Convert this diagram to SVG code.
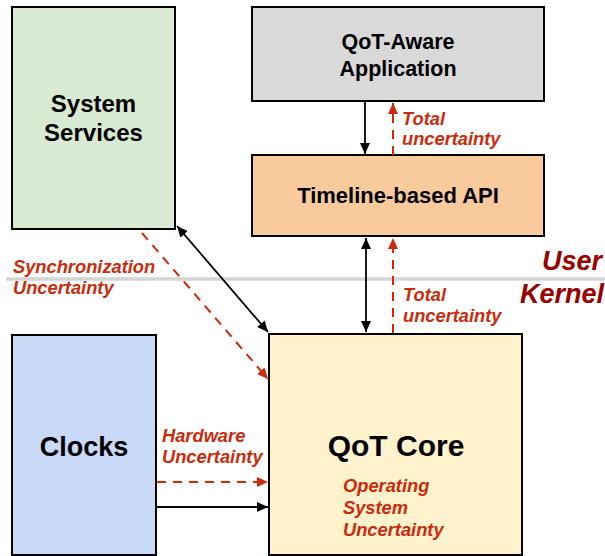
<svg xmlns="http://www.w3.org/2000/svg" width="605" height="556" viewBox="0 0 605 556">
  <style>
    .box { stroke: #000; stroke-width: 2; }
    .title { font-family: "Liberation Sans", Arial, sans-serif; font-weight: bold; fill: #000; text-anchor: middle; }
    .note { font-family: "Liberation Sans", Arial, sans-serif; font-weight: bold; font-style: italic; fill: #cc2a0a; font-size: 18.3px; }
    .realm { font-family: "Liberation Sans", Arial, sans-serif; font-weight: bold; font-style: italic; fill: #990000; font-size: 27px; text-anchor: end; }
    .flow { stroke: #000; stroke-width: 1.8; fill: none; }
    .unc { stroke: #cc2a0a; stroke-width: 2; fill: none; stroke-dasharray: 9 7; }
  </style>
  <defs>
    <marker id="blk" viewBox="0 0 10 10" refX="10" refY="5" markerWidth="11" markerHeight="10" markerUnits="userSpaceOnUse" orient="auto-start-reverse" preserveAspectRatio="none">
      <path d="M0,0 L10,5 L0,10 z" fill="#000"/>
    </marker>
    <marker id="red" viewBox="0 0 10 10" refX="10" refY="5" markerWidth="11" markerHeight="10" markerUnits="userSpaceOnUse" orient="auto" preserveAspectRatio="none">
      <path d="M0,0 L10,5 L0,10 z" fill="#cc2a0a"/>
    </marker>
  </defs>

  <!-- user / kernel boundary -->
  <line x1="6" y1="279" x2="605" y2="279" stroke="#d4d4d4" stroke-width="3.5"/>
  <text class="realm" x="602" y="270">User</text>
  <text class="realm" x="604" y="303">Kernel</text>

  <g id="system-services">
    <rect class="box" x="12" y="7" width="163" height="222" fill="#d9ead3"/>
    <text class="title" font-size="24" x="93.5" y="112">System</text>
    <text class="title" font-size="24" x="93.5" y="141">Services</text>
  </g>

  <g id="qot-app">
    <rect class="box" x="252" y="7" width="292" height="94" fill="#d9d9d9"/>
    <text class="title" font-size="21.5" x="398" y="49">QoT-Aware</text>
    <text class="title" font-size="21.5" x="398" y="76">Application</text>
  </g>

  <g id="timeline-api">
    <rect class="box" x="252" y="155" width="292" height="81" fill="#f9cb9c"/>
    <text class="title" font-size="22" x="398" y="203">Timeline-based API</text>
  </g>

  <g id="clocks">
    <rect class="box" x="12" y="335" width="144" height="220" fill="#c9daf8"/>
    <text class="title" font-size="27" x="84" y="456">Clocks</text>
  </g>

  <g id="qot-core">
    <rect class="box" x="269" y="334" width="253" height="221" fill="#fff2cc"/>
    <text class="title" font-size="30" x="396" y="456">QoT Core</text>
    <text class="note" x="343" y="492">Operating</text>
    <text class="note" x="343" y="514">System</text>
    <text class="note" x="343" y="536">Uncertainty</text>
  </g>

  <g id="connectors">
    <!-- application <-> API -->
    <line class="flow" x1="365" y1="101" x2="365" y2="154" marker-end="url(#blk)"/>
    <line class="unc" x1="393" y1="155" x2="393" y2="103" marker-end="url(#red)"/>
    <!-- API <-> core -->
    <line class="flow" x1="366" y1="238" x2="366" y2="332" marker-start="url(#blk)" marker-end="url(#blk)"/>
    <line class="unc" x1="393" y1="333" x2="393" y2="238" marker-end="url(#red)"/>
    <!-- system services <-> core -->
    <line class="flow" x1="177" y1="226" x2="268" y2="332" marker-start="url(#blk)" marker-end="url(#blk)"/>
    <line class="unc" x1="142" y1="233" x2="268" y2="379" marker-end="url(#red)"/>
    <!-- clocks -> core -->
    <line class="unc" x1="157" y1="482" x2="268" y2="482" marker-end="url(#red)"/>
    <line class="flow" x1="157" y1="507" x2="268" y2="507" marker-end="url(#blk)"/>

    <text class="note" x="402" y="125">Total</text>
    <text class="note" x="402" y="145">uncertainty</text>
    <text class="note" x="403" y="301">Total</text>
    <text class="note" x="403" y="322">uncertainty</text>
    <text class="note" x="13" y="273">Synchronization</text>
    <text class="note" x="13" y="294">Uncertainty</text>
    <text class="note" x="162" y="442">Hardware</text>
    <text class="note" x="162" y="463">Uncertainty</text>
  </g>
</svg>
